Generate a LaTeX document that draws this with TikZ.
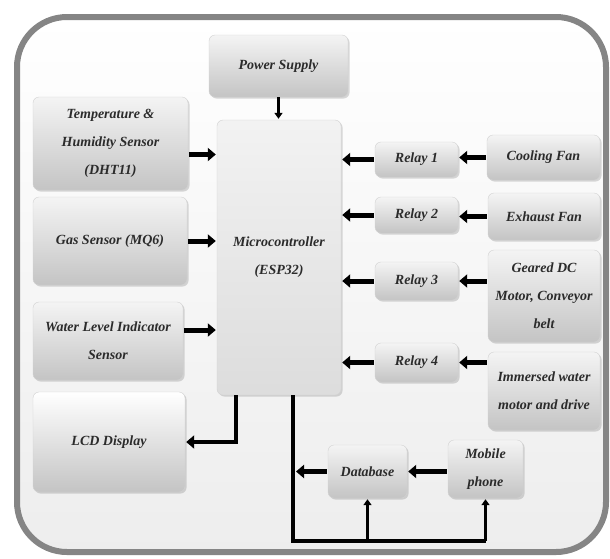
\documentclass[tikz,border=0pt]{standalone}
\usepackage{fontspec}
\setmainfont{Liberation Serif}
\usetikzlibrary{positioning,arrows.meta,shadows}
\definecolor{boxtop}{HTML}{F4F4F4}
\definecolor{boxbot}{HTML}{C4C4C4}
\definecolor{frameline}{HTML}{858585}
\definecolor{ink}{HTML}{2B2B2B}
\begin{document}
\begin{tikzpicture}[x=1pt,y=-1pt, every node/.style={font=\bfseries\itshape\fontsize{14}{28}\selectfont,text=ink,align=center,inner sep=0pt},
    blk/.style={rounded corners=6pt,top color=boxtop,bottom color=boxbot,draw=gray!35,drop shadow={opacity=0.3,shadow xshift=1.5pt,shadow yshift=-1.5pt}},
    bigarr/.style={-{Triangle[length=8pt,width=13pt]},line width=5pt,shorten <=1pt,shorten >=1pt},
    smallarr/.style={-{Triangle[length=6pt,width=8pt]},line width=2.5pt,shorten >=1pt}]
    \useasboundingbox (0,0) rectangle (610,558);
    \draw[line width=6pt,draw=frameline,top color=white,bottom color=gray!14,rounded corners=50pt] (17,17) rectangle (606,552);
    \node (pwr) [blk, minimum width=139pt, minimum height=62pt] at (278.5,66) {Power Supply};
    \node (mcu) [blk, top color=gray!10, bottom color=gray!27, minimum width=124pt, minimum height=275pt] at (279,257.5) {Microcontroller\\(ESP32)};
    \node (temp) [blk, minimum width=155pt, minimum height=93pt] at (110.5,143.5) {Temperature \&\\Humidity Sensor\\(DHT11)};
    \node (gas) [blk, minimum width=154pt, minimum height=88pt] at (110,241) {Gas Sensor (MQ6)};
    \node (water) [blk, minimum width=150pt, minimum height=78pt] at (108,341) {Water Level Indicator\\Sensor};
    \node (lcd) [blk, top color=white, minimum width=152pt, minimum height=100pt] at (109,442) {LCD Display};
    \node (r1) [blk, minimum width=83pt, minimum height=35pt] at (416.5,159.5) {Relay 1};
    \node (r2) [blk, minimum width=83pt, minimum height=36pt] at (416.5,215) {Relay 2};
    \node (r3) [blk, minimum width=83pt, minimum height=38pt] at (416.5,281) {Relay 3};
    \node (r4) [blk, minimum width=83pt, minimum height=39pt] at (416.5,362.5) {Relay 4};
    \node (cool) [blk, minimum width=113pt, minimum height=45pt] at (543.5,157.5) {Cooling Fan};
    \node (exh) [blk, minimum width=112pt, minimum height=47pt] at (544,216.5) {Exhaust Fan};
    \node (gear) [blk, minimum width=112pt, minimum height=92pt] at (544,296) {Geared DC\\Motor, Conveyor\\belt};
    \node (imm) [blk, minimum width=112pt, minimum height=78pt] at (544,391) {Immersed water\\motor and drive};
    \node (db) [blk, minimum width=79pt, minimum height=53pt] at (367.5,471.5) {Database};
    \node (mob) [blk, minimum width=75pt, minimum height=58pt] at (485.5,469) {Mobile\\phone};
    \coordinate (tout) at ([yshift=-11pt]temp.east);
    \coordinate (wout) at ([yshift=11pt]water.east);
    \draw[smallarr] (pwr.south) -- (pwr.south |- mcu.north);
    \draw[bigarr] (tout) -- (mcu.west |- tout);
    \draw[bigarr] (gas.east) -- (mcu.west |- gas.east);
    \draw[bigarr] (wout) -- (mcu.west |- wout);
    \draw[bigarr] (r1.west) -- (mcu.east |- r1.west); \draw[bigarr] (r2.west) -- (mcu.east |- r2.west);
    \draw[bigarr] (r3.west) -- (mcu.east |- r3.west); \draw[bigarr] (r4.west) -- (mcu.east |- r4.west);
    \draw[bigarr] (cool.west) -- (cool.west -| r1.east); \draw[bigarr] (exh.west) -- (exh.west -| r2.east);
    \draw[bigarr] (r3.east -| gear.west) -- (r3.east); \draw[bigarr] (r4.east -| imm.west) -- (r4.east);
    \draw[bigarr, line width=4.5pt, shorten <=0pt] ([xshift=-43pt]mcu.south) |- (lcd.east);
    \coordinate (tap) at ([xshift=14pt]mcu.south);
    \coordinate (bus) at (0,541);
    \draw[line width=4pt] (tap) |- (mob.south |- bus);
    \draw[smallarr] (db.south |- bus) -- (db.south);
    \draw[smallarr] (mob.south |- bus) -- (mob.south);
    \draw[bigarr, shorten >=3pt] (db.west) -- (db.west -| tap);
    \draw[bigarr] (mob.west |- db) -- (db.east);
  \end{tikzpicture}
\end{document}
